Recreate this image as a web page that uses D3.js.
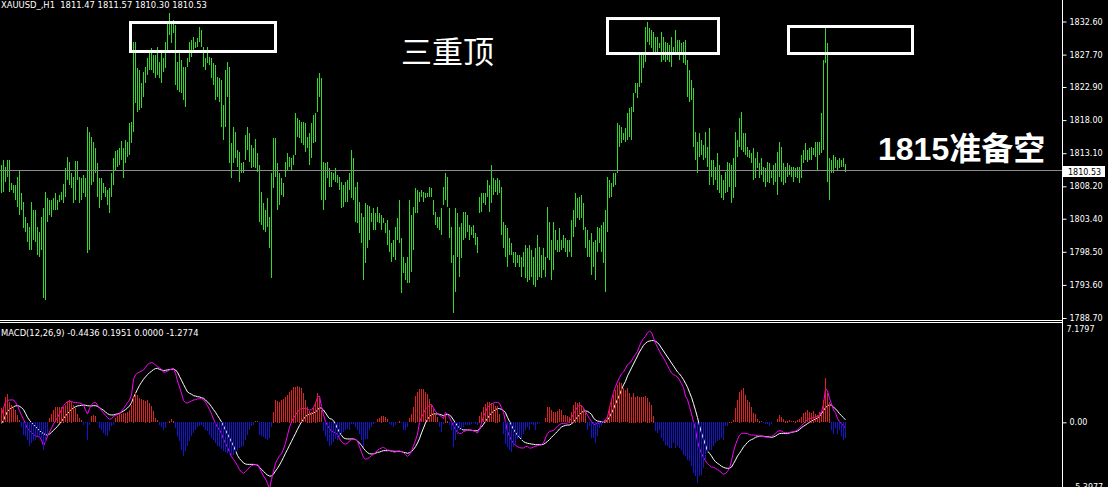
<!DOCTYPE html>
<html lang="zh">
<head>
<meta charset="utf-8">
<title>XAUUSD H1 MACD</title>
<script src="https://d3js.org/d3.v7.min.js"></script>
<style>
  html, body { margin: 0; padding: 0; background: #000; }
  svg { display: block; }
  text { font-family: "DejaVu Sans", Verdana, sans-serif; fill: #fff; }
</style>
</head>
<body>
<div id="chart"></div>
<script>
// H1 bars, oldest first (high / low)
var highs = [
1811.4,1812.1,1811.1,1812.1,1812.1,1808.7,1808.4,1808.4,1809.6,1810.6,
1807.2,1805.9,1803.7,1802.8,1802.2,1805.9,1804.7,1804.7,1802.2,1801.4,
1803.7,1805.0,1807.4,1806.5,1806.2,1806.2,1806.5,1807.2,1806.2,1806.9,
1807.4,1808.5,1810.9,1812.5,1811.8,1810.2,1809.6,1811.9,1811.9,1809.6,
1809.4,1809.9,1809.4,1817.0,1816.2,1815.5,1814.8,1813.9,1811.7,1809.4,
1809.4,1808.7,1808.1,1807.7,1807.9,1810.2,1812.4,1813.4,1813.6,1813.9,
1814.9,1813.9,1815.1,1814.8,1817.6,1817.7,1829.6,1829.6,1825.7,1825.4,
1823.5,1825.1,1825.9,1827.2,1828.4,1828.7,1827.6,1827.6,1828.8,1826.6,
1827.9,1827.2,1829.6,1832.4,1833.9,1832.5,1832.8,1832.1,1826.6,1828.4,
1826.9,1825.9,1825.9,1827.2,1829.6,1829.9,1830.3,1829.6,1830.2,1831.8,
1831.3,1828.8,1827.2,1828.8,1827.3,1827.2,1826.5,1826.2,1824.4,1824.2,
1823.9,1820.2,1825.4,1826.6,1825.9,1814.6,1817.0,1816.2,1813.6,1813.3,
1811.7,1811.8,1815.8,1817.0,1816.1,1814.3,1813.9,1815.2,1813.1,1811.4,
1807.4,1805.7,1804.7,1806.5,1803.7,1810.2,1815.4,1815.4,1811.7,1810.2,
1809.4,1808.7,1811.8,1813.1,1812.5,1812.4,1812.8,1819.1,1818.3,1818.0,
1817.7,1817.7,1817.6,1815.5,1816.1,1817.6,1818.8,1819.1,1824.2,1825.0,
1824.2,1811.8,1811.7,1811.8,1810.9,1810.3,1810.2,1810.9,1809.9,1809.6,
1808.8,1808.4,1808.8,1809.1,1810.2,1813.6,1812.4,1808.1,1808.8,1805.9,
1804.2,1803.7,1805.7,1805.4,1805.3,1804.2,1805.0,1804.2,1805.1,1804.2,
1804.0,1803.5,1802.8,1803.2,1801.7,1799.8,1800.3,1802.2,1803.5,1806.2,
1800.6,1797.7,1796.8,1797.7,1806.2,1804.0,1805.1,1808.0,1807.7,1807.4,
1807.7,1807.4,1807.2,1807.2,1808.1,1808.0,1806.2,1804.4,1803.7,1803.7,
1805.0,1808.1,1810.2,1809.6,1805.0,1802.2,1798.0,1805.0,1804.2,1802.2,
1802.8,1804.4,1804.4,1804.0,1802.5,1802.2,1802.5,1801.3,1800.7,1806.6,
1807.2,1807.2,1807.2,1809.1,1808.4,1811.4,1809.4,1809.1,1809.4,1809.1,
1808.1,1802.9,1802.5,1802.0,1800.6,1799.8,1798.4,1798.5,1798.0,1798.0,
1797.7,1798.4,1799.5,1799.1,1799.5,1798.8,1797.7,1799.1,1801.0,1799.2,
1798.0,1799.1,1797.7,1805.1,1802.9,1800.3,1802.9,1801.7,1800.3,1802.0,
1800.3,1801.0,1800.6,1800.3,1800.3,1803.2,1804.7,1807.2,1806.5,1806.6,
1806.9,1805.7,1802.2,1801.7,1800.3,1801.3,1800.0,1800.3,1802.2,1802.0,
1802.5,1802.9,1804.7,1809.6,1809.1,1808.7,1810.2,1810.2,1817.6,1817.3,
1817.0,1816.1,1816.8,1819.1,1819.8,1820.0,1822.0,1823.5,1823.5,1827.9,
1827.7,1827.7,1831.8,1832.5,1831.6,1831.4,1831.1,1830.3,1830.3,1829.4,
1831.1,1830.3,1829.6,1829.4,1829.1,1830.3,1828.8,1831.4,1829.9,1829.9,
1829.4,1829.6,1829.9,1826.9,1825.4,1824.0,1822.8,1816.3,1814.8,1816.1,
1815.1,1814.3,1816.3,1814.0,1816.9,1812.1,1812.1,1811.1,1813.2,1811.4,
1809.9,1809.1,1810.3,1811.8,1811.7,1811.4,1812.4,1816.3,1815.1,1818.3,
1819.2,1816.1,1816.1,1814.0,1813.6,1813.2,1813.9,1812.4,1813.3,1811.7,
1812.4,1811.1,1810.9,1811.8,1811.7,1810.6,1811.4,1811.7,1813.3,1814.8,
1814.0,1811.7,1811.1,1811.7,1811.4,1811.1,1811.1,1810.9,1811.1,1811.1,
1812.9,1813.6,1814.6,1813.6,1813.9,1814.0,1813.9,1814.8,1814.8,1814.8,
1819.1,1826.9,1831.6,1829.4,1812.4,1812.1,1812.8,1812.5,1812.1,1812.4,
1812.1,1812.4,1811.57
];
var lows = [
1807.2,1807.4,1808.8,1809.6,1807.4,1807.7,1807.2,1806.2,1805.1,1804.0,
1804.7,1802.0,1801.4,1800.0,1798.8,1798.8,1800.3,1800.0,1798.0,1797.7,
1798.8,1791.7,1791.4,1802.9,1804.0,1803.7,1804.7,1804.7,1804.7,1805.9,
1806.2,1805.7,1806.6,1809.1,1808.4,1807.9,1805.7,1806.2,1809.1,1805.7,
1806.2,1807.2,1806.6,1798.3,1798.8,1808.4,1808.8,1810.2,1806.6,1805.0,
1806.2,1807.2,1806.6,1805.4,1804.2,1806.6,1808.4,1810.6,1811.1,1811.4,
1812.1,1809.4,1811.7,1812.5,1812.8,1814.6,1816.2,1820.5,1819.2,1819.5,
1819.8,1821.4,1823.5,1824.7,1825.4,1825.4,1825.0,1824.2,1824.7,1824.2,
1823.5,1825.1,1825.7,1828.4,1830.6,1829.4,1830.9,1823.2,1822.5,1822.2,
1822.0,1821.0,1819.9,1825.9,1826.6,1827.3,1828.4,1828.7,1828.8,1829.6,
1828.8,1825.9,1825.4,1826.5,1826.2,1824.2,1823.2,1821.0,1821.4,1820.7,
1817.0,1815.1,1817.0,1821.4,1811.7,1809.4,1811.7,1812.4,1811.1,1808.8,
1810.2,1810.2,1812.1,1813.6,1811.8,1810.9,1811.1,1810.9,1810.3,1802.9,
1802.5,1801.7,1801.4,1802.2,1799.1,1794.6,1807.9,1809.6,1804.7,1805.4,
1806.9,1806.6,1809.6,1810.6,1811.1,1810.6,1811.4,1812.8,1815.5,1815.4,
1814.6,1814.3,1813.3,1813.9,1811.4,1812.4,1814.6,1814.8,1819.2,1821.4,
1806.2,1804.7,1806.2,1809.4,1808.1,1808.1,1809.1,1808.8,1808.7,1807.7,
1805.0,1805.1,1805.9,1805.9,1807.7,1806.5,1806.2,1802.9,1802.8,1801.3,
1799.8,1794.3,1796.9,1799.1,1800.3,1802.9,1801.7,1801.7,1802.9,1802.8,
1801.7,1802.8,1801.3,1799.5,1798.5,1797.0,1797.7,1797.3,1800.3,1799.8,
1792.4,1795.4,1794.3,1793.9,1793.9,1795.5,1798.8,1804.2,1804.2,1805.9,
1806.6,1805.9,1806.5,1806.6,1806.6,1806.6,1804.0,1802.5,1802.0,1801.7,
1801.0,1805.4,1806.2,1805.1,1800.6,1796.8,1789.5,1792.6,1797.7,1794.8,
1797.6,1800.3,1800.6,1801.4,1800.3,1801.0,1800.6,1799.5,1798.3,1804.2,
1804.4,1805.7,1805.4,1806.6,1804.4,1805.7,1806.9,1807.4,1806.9,1807.2,
1801.0,1799.1,1797.7,1796.3,1798.0,1798.0,1796.9,1796.3,1796.9,1796.3,
1794.8,1796.3,1794.6,1794.1,1794.4,1794.8,1793.6,1793.3,1794.4,1794.8,
1794.6,1795.8,1794.8,1797.6,1797.3,1794.4,1795.8,1798.8,1798.4,1798.4,
1798.8,1799.1,1798.4,1797.7,1798.4,1797.7,1800.7,1802.2,1803.5,1803.2,
1803.5,1801.7,1799.1,1797.7,1797.7,1795.1,1796.3,1794.4,1798.4,1799.8,
1798.4,1796.9,1792.6,1801.4,1806.5,1806.6,1808.1,1808.4,1810.2,1814.0,
1814.6,1815.1,1814.8,1815.1,1815.5,1815.1,1819.2,1822.0,1821.3,1822.9,
1823.5,1825.7,1826.6,1829.6,1829.1,1828.7,1827.7,1827.9,1827.7,1828.7,
1826.6,1826.9,1826.6,1826.9,1826.6,1825.9,1827.7,1827.7,1827.7,1826.9,
1827.9,1826.5,1826.2,1821.4,1820.7,1821.0,1814.0,1812.1,1810.2,1812.6,
1812.9,1812.1,1812.4,1811.1,1808.4,1809.6,1808.4,1809.1,1807.7,1807.2,
1806.5,1806.2,1807.2,1807.4,1808.1,1805.7,1806.5,1808.1,1812.6,1814.0,
1813.6,1813.3,1812.9,1812.6,1812.4,1811.7,1809.1,1809.4,1810.9,1809.4,
1809.9,1808.8,1808.1,1808.8,1808.7,1809.4,1808.4,1808.8,1806.9,1809.6,
1808.8,1808.4,1808.7,1809.6,1809.9,1809.6,1808.8,1809.6,1809.4,1808.7,
1809.4,1811.7,1812.1,1811.8,1812.1,1812.1,1812.8,1812.6,1810.6,1812.8,
1813.2,1813.6,1826.5,1808.8,1806.2,1810.2,1810.2,1810.9,1810.6,1810.9,
1811.1,1811.1,1810.30
];

// MACD(12,26,9): DIF (magenta), DEA (white), histogram (red / blue)
var dif = [
0.58,1.10,1.63,1.71,1.76,1.76,1.76,1.57,1.31,0.92,
0.55,0.24,-0.13,-0.50,-0.66,-0.81,-0.97,-1.05,-1.13,-1.16,
-1.39,-1.86,-1.52,-1.08,-0.76,-0.45,-0.13,0.13,0.37,0.68,
1.00,1.31,1.50,1.63,1.65,1.65,1.57,1.55,1.55,1.52,
1.47,1.36,0.97,0.66,1.08,1.39,1.52,1.57,1.36,1.16,
0.92,0.74,0.55,0.37,0.24,0.29,0.47,0.55,0.60,0.71,
0.87,1.08,1.31,1.55,1.76,2.15,3.39,3.73,3.89,3.96,
4.04,4.12,4.33,4.54,4.65,4.70,4.65,4.51,4.38,4.28,
4.15,3.94,3.96,4.02,4.12,4.20,4.25,3.86,3.25,2.78,
2.28,1.71,1.55,1.52,1.60,1.68,1.76,1.78,1.84,1.86,
1.86,1.78,1.57,1.31,1.00,0.66,0.26,-0.08,-0.39,-0.60,
-0.89,-1.31,-1.65,-1.97,-2.36,-2.70,-2.91,-3.15,-3.41,-3.73,
-3.91,-4.02,-3.88,-3.73,-3.54,-3.41,-3.36,-3.33,-3.31,-3.62,
-3.91,-4.23,-4.46,-4.80,-5.25,-4.49,-3.86,-3.23,-2.91,-2.62,
-2.49,-2.10,-1.65,-1.02,-0.39,0.03,0.34,0.58,0.81,1.02,
1.08,1.10,1.10,1.02,0.97,0.97,1.18,1.50,1.97,2.07,
1.23,0.60,0.05,-0.26,-0.50,-0.71,-0.76,-0.84,-0.97,-1.29,
-1.52,-1.68,-1.71,-1.65,-1.47,-1.36,-1.31,-1.36,-1.50,-1.92,
-2.36,-2.76,-2.89,-2.86,-2.76,-2.62,-2.52,-2.36,-2.20,-2.10,
-2.02,-1.97,-2.07,-2.18,-2.20,-2.26,-2.34,-2.34,-2.28,-2.26,
-2.31,-2.36,-2.55,-2.68,-2.55,-2.26,-1.84,-1.44,-0.92,0.00,
0.39,0.71,1.05,1.18,1.36,1.39,1.13,0.87,0.68,0.55,
0.45,0.29,0.79,0.63,0.39,0.05,-0.31,-0.58,-0.79,-0.87,
-0.87,-0.73,-0.68,-0.60,-0.60,-0.63,-0.66,-0.73,-0.84,-0.52,
-0.08,0.47,0.81,1.18,1.34,1.44,1.52,1.57,1.57,1.50,
1.15,0.79,0.00,-0.71,-1.10,-1.42,-1.65,-1.81,-1.92,-1.99,
-2.02,-2.02,-1.92,-1.89,-2.02,-2.02,-1.94,-1.89,-1.84,-1.81,
-1.76,-1.63,-1.23,-0.89,-0.71,-0.68,-0.63,-0.47,-0.31,-0.18,
-0.10,-0.08,-0.08,-0.05,0.10,0.34,0.66,0.94,1.21,1.36,
1.31,1.13,0.84,0.55,0.29,0.08,-0.16,-0.16,-0.08,-0.05,
0.00,0.05,0.24,0.42,1.15,1.76,2.36,2.81,3.18,3.52,
3.81,3.96,4.23,4.54,4.65,4.83,5.12,5.35,5.59,6.01,
6.35,6.59,6.77,7.05,7.18,7.08,6.64,6.22,5.91,5.59,
5.30,5.07,4.78,4.46,4.15,3.88,3.75,3.67,3.57,3.33,
3.04,2.73,2.05,1.78,1.23,0.66,0.03,-0.60,-1.50,-2.05,
-2.44,-2.78,-3.02,-3.25,-3.41,-3.52,-3.54,-3.62,-3.73,-3.81,
-3.99,-4.09,-4.02,-3.86,-3.60,-3.02,-2.31,-1.78,-1.34,-1.02,
-0.87,-0.87,-0.87,-0.89,-0.97,-1.00,-1.00,-1.02,-1.05,-1.08,
-1.10,-1.13,-1.15,-1.18,-1.18,-1.10,-1.02,-0.87,-0.71,-0.66,
-0.68,-0.79,-0.81,-0.81,-0.79,-0.76,-0.73,-0.68,-0.58,-0.45,
-0.26,-0.10,0.08,0.24,0.29,0.34,0.37,0.42,0.47,0.55,
0.84,1.42,2.68,2.47,1.89,1.44,0.97,0.76,0.29,0.05,
-0.13,-0.29,-0.4436
];
var dea = [
-0.08,0.16,0.53,0.87,1.02,1.13,1.23,1.29,1.31,1.26,
1.16,1.00,0.71,0.39,0.16,-0.03,-0.18,-0.34,-0.50,-0.66,
-0.79,-0.89,-0.97,-1.00,-0.92,-0.79,-0.63,-0.47,-0.32,-0.13,
0.08,0.29,0.50,0.68,0.87,1.02,1.13,1.23,1.29,1.31,
1.34,1.36,1.34,1.31,1.29,1.29,1.31,1.31,1.26,1.16,
1.05,0.95,0.81,0.68,0.60,0.58,0.58,0.63,0.66,0.71,
0.79,0.89,1.00,1.13,1.29,1.55,1.94,2.28,2.60,2.91,
3.15,3.39,3.57,3.75,3.91,4.02,4.15,4.23,4.25,4.17,
4.12,4.07,4.10,4.12,4.15,4.17,4.20,4.12,3.94,3.62,
3.31,2.99,2.68,2.39,2.28,2.21,2.10,2.07,2.02,2.00,
1.94,1.89,1.76,1.60,1.44,1.23,1.00,0.79,0.53,0.29,
0.03,-0.29,-0.60,-0.92,-1.23,-1.55,-1.86,-2.23,-2.60,-2.86,
-3.02,-3.20,-3.28,-3.31,-3.31,-3.31,-3.31,-3.33,-3.36,-3.54,
-3.70,-3.86,-4.02,-4.15,-4.23,-4.23,-4.07,-3.83,-3.62,-3.36,
-3.07,-2.76,-2.44,-2.13,-1.81,-1.50,-1.18,-0.87,-0.55,-0.24,
0.03,0.26,0.45,0.58,0.63,0.68,0.74,0.81,0.97,1.16,
1.10,0.97,0.74,0.50,0.29,0.26,0.13,-0.13,-0.50,-0.79,
-1.02,-1.23,-1.29,-1.31,-1.31,-1.31,-1.31,-1.36,-1.47,-1.63,
-1.81,-2.05,-2.23,-2.39,-2.47,-2.49,-2.49,-2.44,-2.36,-2.34,
-2.28,-2.23,-2.23,-2.23,-2.23,-2.26,-2.28,-2.28,-2.28,-2.28,
-2.31,-2.36,-2.39,-2.44,-2.39,-2.31,-2.13,-1.92,-1.63,-1.29,
-0.84,-0.45,-0.05,0.24,0.45,0.60,0.66,0.66,0.66,0.63,
0.58,0.52,0.58,0.63,0.58,0.42,0.18,-0.05,-0.29,-0.45,
-0.55,-0.60,-0.60,-0.60,-0.60,-0.63,-0.66,-0.66,-0.66,-0.52,
-0.37,-0.16,0.08,0.31,0.55,0.73,0.87,1.00,1.08,1.08,
1.02,0.92,0.76,0.39,0.08,-0.24,-0.55,-0.79,-1.02,-1.18,
-1.36,-1.52,-1.60,-1.65,-1.68,-1.71,-1.73,-1.76,-1.76,-1.76,
-1.76,-1.73,-1.63,-1.50,-1.36,-1.18,-1.02,-0.87,-0.71,-0.52,
-0.37,-0.29,-0.24,-0.21,-0.21,-0.13,0.03,0.24,0.42,0.60,
0.76,0.89,0.89,0.87,0.76,0.63,0.34,0.18,0.10,0.08,
0.03,0.00,0.03,0.18,0.42,0.73,1.05,1.44,1.81,2.15,
2.57,2.94,3.23,3.65,3.96,4.28,4.59,4.91,5.22,5.54,
5.80,6.06,6.22,6.35,6.40,6.43,6.43,6.38,6.27,6.09,
5.85,5.62,5.38,5.14,4.91,4.67,4.44,4.20,3.96,3.81,
3.60,3.36,3.07,2.76,2.36,1.97,1.47,0.94,0.37,-0.26,
-0.84,-1.31,-1.78,-2.26,-2.44,-2.65,-2.91,-3.10,-3.23,-3.33,
-3.46,-3.54,-3.60,-3.62,-3.62,-3.52,-3.25,-2.97,-2.65,-2.44,
-2.20,-1.94,-1.76,-1.57,-1.44,-1.36,-1.29,-1.18,-1.13,-1.10,
-1.08,-1.10,-1.13,-1.13,-1.15,-1.18,-1.15,-1.08,-0.97,-0.89,
-0.87,-0.87,-0.87,-0.87,-0.84,-0.79,-0.76,-0.73,-0.68,-0.58,
-0.42,-0.31,-0.21,-0.10,0.00,0.10,0.18,0.26,0.34,0.47,
0.68,0.92,1.15,1.29,1.39,1.34,1.21,1.05,0.89,0.68,
0.52,0.36,0.1951
];
var hist = [
1.10,1.23,1.97,2.23,1.63,1.36,1.29,0.97,0.58,0.18,
-0.39,-1.00,-1.13,-1.39,-1.86,-1.65,-1.52,-1.39,-1.13,-1.26,
-1.26,-2.18,-1.65,-1.00,0.31,0.66,0.97,1.18,1.23,1.23,
1.23,1.23,1.36,1.63,1.76,1.63,1.36,1.10,0.66,0.31,
0.18,-0.21,-0.08,-1.39,-0.21,0.50,0.58,0.50,-0.08,-0.47,
-0.60,-0.87,-1.00,-1.13,-0.73,-0.34,-0.21,0.31,0.50,0.66,
0.66,0.71,0.76,0.84,0.97,1.36,2.02,2.28,2.15,1.89,
1.81,1.76,1.71,1.76,1.55,1.29,0.89,0.31,0.18,-0.21,
-0.39,-0.66,-0.47,-0.08,0.13,0.24,0.13,-0.47,-1.13,-1.52,
-2.18,-2.70,-2.31,-1.92,-1.52,-1.13,-0.87,-0.60,-0.39,-0.29,
-0.21,-0.39,-0.60,-0.73,-1.00,-1.26,-1.39,-1.65,-1.86,-1.97,
-2.13,-2.31,-2.39,-2.44,-2.49,-2.70,-2.57,-2.44,-2.31,-2.05,
-1.97,-1.92,-1.39,-1.00,-0.60,-0.34,-0.21,0.08,0.08,-1.00,
-1.08,-1.18,-1.34,-1.39,-1.26,-0.39,0.84,1.76,1.71,1.63,
1.76,1.81,1.97,2.15,2.42,2.55,2.81,2.81,2.86,2.81,
2.68,2.28,1.76,1.23,0.92,0.84,1.10,1.63,2.28,1.89,
0.97,-0.73,-1.13,-1.52,-1.92,-1.84,-1.57,-1.31,-1.44,-1.18,
-1.05,-0.79,-0.66,-0.52,-0.66,-0.13,-0.13,-0.39,-0.66,-0.92,
-1.44,-1.97,-1.31,-1.31,-0.66,-0.39,-0.13,-0.05,0.26,0.34,
0.52,0.47,0.39,0.26,-0.13,-0.26,-0.39,-0.26,-0.08,0.13,
-0.05,-0.66,-0.66,-0.39,0.34,0.66,1.18,2.10,2.36,2.62,
2.62,2.62,2.36,2.23,1.84,1.44,1.05,0.66,0.39,-0.39,
-0.79,-0.13,0.52,0.13,-0.26,-0.66,-1.97,-1.44,-0.92,-0.66,
-0.60,-0.39,-0.26,-0.21,-0.26,-0.13,-0.08,-0.13,-0.21,0.52,
0.79,1.18,1.44,1.57,1.57,1.50,1.44,1.31,1.31,0.66,
0.00,-0.92,-1.71,-1.97,-2.23,-2.36,-1.97,-1.71,-1.31,-1.18,
-1.44,-0.92,-0.66,-0.39,-0.66,-0.13,-0.26,-0.60,-0.13,-0.08,
-0.03,-0.03,0.34,1.18,1.23,0.97,0.84,0.84,0.92,1.02,
0.97,0.58,0.58,0.50,0.45,0.84,1.36,1.63,1.50,1.63,
1.36,1.10,0.92,-0.60,-0.34,-1.26,-1.26,-1.65,-1.13,-0.47,
-0.34,-0.08,0.18,0.45,1.23,1.76,2.15,2.55,2.94,3.20,
3.07,2.68,2.55,2.68,2.34,2.02,2.34,2.02,2.07,2.02,
2.02,1.97,2.07,1.94,1.63,1.36,0.52,-0.73,-0.87,-0.60,
-1.26,-1.52,-1.78,-1.92,-2.05,-2.05,-1.65,-2.05,-1.92,-2.05,
-2.18,-2.57,-2.70,-2.97,-3.10,-3.49,-4.02,-4.28,-4.80,-4.28,
-4.15,-3.62,-2.97,-2.44,-2.18,-2.18,-1.92,-1.65,-1.52,-1.39,
-1.26,-1.39,-0.34,-0.29,0.05,0.05,0.18,1.10,1.76,2.41,
2.55,2.68,2.15,1.76,1.63,1.18,0.76,0.63,0.24,0.13,
0.10,-0.08,-0.13,-0.13,-0.29,-0.13,0.00,0.00,0.24,0.58,
0.39,0.24,0.13,0.13,0.18,0.10,0.10,0.13,0.18,0.24,
0.45,0.71,0.84,0.97,0.79,0.76,0.92,0.66,0.58,0.84,
0.58,1.76,3.46,2.28,1.63,-0.60,-0.97,-0.47,-0.97,-0.60,
-1.13,-1.39,-1.2774
];

var priceTicks = [1832.60, 1827.70, 1822.90, 1818.00, 1813.10, 1808.20, 1803.40, 1798.50, 1793.60, 1788.70];
var macdTicks = [7.1797, 0, -5.3977];
var lastPrice = 1810.53;
var titleText = "XAUUSD_,H1  1811.47 1811.57 1810.30 1810.53";
var macdText = "MACD(12,26,9) -0.4436 0.1951 0.0000 -1.2774";

// hand-drawn boxes and notes, in bar index / price units
var boxes = [
  {from: 64.75, to: 137.25, top: 1832.45, bottom: 1828.16},
  {from: 303.25, to: 358.75, top: 1833.04, bottom: 1827.86},
  {from: 393.75, to: 455.75, top: 1831.86, bottom: 1827.86}
];
var notes = [
  {text: "三重顶", at: 200, price: 1826.46, size: 31, bold: false},
  {text: "1815准备空", at: 438.5, price: 1812.09, size: 32, bold: true}
];

var width = 1108, height = 487;
var axisX = 1062;
var barColor = "#33d92a";

var svg = d3.select("#chart").append("svg")
  .attr("width", width)
  .attr("height", height);

svg.append("rect").attr("width", width).attr("height", height).attr("fill", "#000");

var n = highs.length;
var idx = d3.range(n);

var x = d3.scaleLinear().domain([0, n - 1]).range([1, 1 + 2 * (n - 1)]);
var y = d3.scaleLinear().domain([1788.70, 1832.60]).range([318, 21.5]);
var my = d3.scaleLinear().domain([-5.3977, 7.1797]).range([490.9, 331.1]);

var defs = svg.append("defs");
defs.append("clipPath").attr("id", "clipTop")
  .append("rect").attr("x", 0).attr("y", 0).attr("width", axisX).attr("height", 320);
defs.append("clipPath").attr("id", "clipBottom")
  .append("rect").attr("x", 0).attr("y", 324).attr("width", axisX).attr("height", height - 324);

// price bars
var pricePanel = svg.append("g").attr("clip-path", "url(#clipTop)");
pricePanel.selectAll("rect.bar")
  .data(idx)
  .join("rect")
  .attr("class", "bar")
  .attr("x", i => Math.round(x(i)))
  .attr("y", i => Math.round(y(highs[i])))
  .attr("width", 1)
  .attr("height", i => Math.max(1, Math.round(y(lows[i])) - Math.round(y(highs[i]))))
  .attr("fill", barColor)
  .attr("shape-rendering", "crispEdges");

// last price line
pricePanel.append("rect")
  .attr("x", 0)
  .attr("y", Math.floor(y(lastPrice)))
  .attr("width", axisX)
  .attr("height", 1)
  .attr("fill", "#8c8c8c");

// boxes
pricePanel.selectAll("rect.box")
  .data(boxes)
  .join("rect")
  .attr("class", "box")
  .attr("x", d => x(d.from))
  .attr("y", d => y(d.top))
  .attr("width", d => x(d.to) - x(d.from))
  .attr("height", d => y(d.bottom) - y(d.top))
  .attr("fill", "none")
  .attr("stroke", "#fff")
  .attr("stroke-width", 3);

// notes
svg.selectAll("text.note")
  .data(notes)
  .join("text")
  .attr("class", "note")
  .attr("x", d => x(d.at))
  .attr("y", d => y(d.price))
  .style("font-family", d => d.bold ? "'Liberation Sans', 'Noto Sans CJK SC', sans-serif" : "'Noto Sans CJK SC', sans-serif")
  .style("font-weight", d => d.bold ? "bold" : "normal")
  .style("font-size", d => d.size + "px")
  .text(d => d.text);

// MACD
var macdPanel = svg.append("g").attr("clip-path", "url(#clipBottom)");

var line = d3.line().x(i => Math.round(x(i)) + 0.5);

macdPanel.append("path")
  .datum(idx)
  .attr("d", line.y(i => my(dea[i])))
  .attr("fill", "none")
  .attr("stroke", "#fff")
  .attr("stroke-width", 1);

macdPanel.append("path")
  .datum(idx)
  .attr("d", line.y(i => my(dif[i])))
  .attr("fill", "none")
  .attr("stroke", "#ff00ff")
  .attr("stroke-width", 1);

macdPanel.selectAll("rect.hist")
  .data(idx)
  .join("rect")
  .attr("class", "hist")
  .attr("x", i => Math.round(x(i)))
  .attr("y", i => Math.round(Math.min(my(hist[i]), my(0))))
  .attr("width", 1)
  .attr("height", i => Math.max(0, Math.round(Math.abs(my(hist[i]) - my(0)))))
  .attr("fill", i => hist[i] >= 0 ? "#dd2222" : "#1515cc")
  .attr("shape-rendering", "crispEdges");

// panel separator and price scale frame
svg.append("rect").attr("x", 0).attr("y", 320).attr("width", axisX + 1).attr("height", 1).attr("fill", "#fff");
svg.append("rect").attr("x", 0).attr("y", 322).attr("width", axisX).attr("height", 1).attr("fill", "#fff");
svg.append("rect").attr("x", axisX).attr("y", 0).attr("width", 1).attr("height", height).attr("fill", "#fff");

var priceAxis = svg.append("g")
  .attr("transform", "translate(" + (axisX + 0.5) + ",0)")
  .call(d3.axisRight(y).tickValues(priceTicks).tickFormat(d3.format(".2f")).tickSize(4).tickSizeOuter(0));

var macdAxis = svg.append("g")
  .attr("transform", "translate(" + (axisX + 0.5) + ",0)")
  .call(d3.axisRight(my).tickValues(macdTicks)
    .tickFormat(d => d === 0 ? "0.00" : d3.format(".4f")(d)).tickSize(4).tickSizeOuter(0));

[priceAxis, macdAxis].forEach(g => {
  g.select(".domain").remove();
  g.selectAll(".tick line").attr("stroke", "#fff");
  g.selectAll(".tick text")
    .attr("fill", "#fff")
    .style("font-family", "'DejaVu Sans', Verdana, sans-serif")
    .style("font-size", "8px");
});
macdAxis.selectAll(".tick").filter(d => d !== 0).select("line").remove();
macdAxis.selectAll(".tick").filter(d => d === 7.1797).select("text").attr("x", 4).attr("dy", "0.1em");
macdAxis.selectAll(".tick").filter(d => d === -5.3977).select("text").attr("x", 6).attr("dy", "-0.2em");

// last price tag
svg.append("rect")
  .attr("x", axisX + 1)
  .attr("y", Math.round(y(lastPrice)) - 5)
  .attr("width", 42)
  .attr("height", 11)
  .attr("fill", "#fff");
svg.append("text")
  .attr("x", axisX + 6)
  .attr("y", Math.round(y(lastPrice)) + 3.5)
  .style("font-size", "8px")
  .style("fill", "#000")
  .text(d3.format(".2f")(lastPrice));

// panel titles
svg.append("text")
  .attr("x", 1).attr("y", 8)
  .style("font-size", "8.4px")
  .style("white-space", "pre")
  .text(titleText);
svg.append("text")
  .attr("x", 1).attr("y", 336)
  .style("font-size", "8.4px")
  .style("white-space", "pre")
  .text(macdText);
</script>
</body>
</html>
